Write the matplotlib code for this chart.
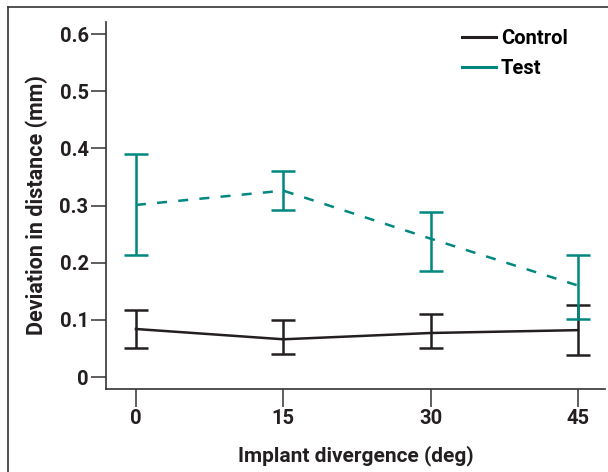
import matplotlib.pyplot as plt
from matplotlib.lines import Line2D

# values
divergence = [0, 15, 30, 45]
control_mean = [0.084, 0.066, 0.077, 0.082]
control_low = [0.051, 0.040, 0.050, 0.038]
control_high = [0.117, 0.099, 0.110, 0.126]
test_mean = [0.301, 0.326, 0.242, 0.160]
test_low = [0.213, 0.293, 0.185, 0.101]
test_high = [0.390, 0.361, 0.289, 0.213]

BLACK = "#231f20"
TEAL = "#00877f"

plt.rcParams["font.family"] = ["Roboto", "DejaVu Sans"]

fig = plt.figure(figsize=(6.08, 4.72), dpi=100)
ax = fig.add_axes([0.1743, 0.1758, 0.8207, 0.7776])


def err(mean, low, high):
    return [[m - l for m, l in zip(mean, low)], [h - m for m, h in zip(mean, high)]]


ax.errorbar(divergence, control_mean, yerr=err(control_mean, control_low, control_high),
            color=BLACK, lw=1.8, elinewidth=1.8, capsize=8.3, capthick=1.8, zorder=2)
ax.errorbar(divergence, test_mean, yerr=err(test_mean, test_low, test_high),
            color=TEAL, lw=1.8, elinewidth=1.8, capsize=8.3, capthick=1.8,
            linestyle=(0, (4, 4.5)), zorder=3)

ax.set_xlim(-3.05, 47.75)
ax.set_ylim(-0.021, 0.621)
ax.set_xticks(divergence)
ax.set_yticks([0, 0.1, 0.2, 0.3, 0.4, 0.5, 0.6])
ax.set_yticklabels(["0", "0.1", "0.2", "0.3", "0.4", "0.5", "0.6"])

for side in ["top", "right"]:
    ax.spines[side].set_visible(False)
for side in ["left", "bottom"]:
    ax.spines[side].set_color("#333333")
    ax.spines[side].set_linewidth(1.2)

ax.tick_params(axis="y", length=11, width=1.1, color="#333333", pad=1.5,
               labelsize=14.5, labelcolor=BLACK)
ax.tick_params(axis="x", length=13, width=1.1, color="#333333", pad=1.5,
               labelsize=14.5, labelcolor=BLACK)
for lbl in ax.get_yticklabels() + ax.get_xticklabels():
    lbl.set_fontweight("bold")

ax.set_xlabel("Implant divergence (deg)", fontsize=15, fontweight="bold",
              color=BLACK, labelpad=12)
ax.set_ylabel("Deviation in distance (mm)", fontsize=15.5, fontweight="bold",
              color=BLACK, labelpad=8)

handles = [Line2D([], [], color=BLACK, lw=2.2), Line2D([], [], color=TEAL, lw=2.2)]
ax.legend(handles, ["Control", "Test"], loc="upper right", frameon=False,
          handlelength=1.7, handletextpad=0.25, labelspacing=0.55,
          bbox_to_anchor=(0.962, 1.03), prop={"weight": "bold", "size": 14.5})

# figure border on top and left
fig.add_artist(Line2D([8 / 608, 1], [1 - 7 / 472, 1 - 7 / 472], color="#333333", lw=1.2))
fig.add_artist(Line2D([8 / 608, 8 / 608], [0, 1 - 7 / 472], color="#333333", lw=1.2))

fig.savefig("out.png", dpi=100)
